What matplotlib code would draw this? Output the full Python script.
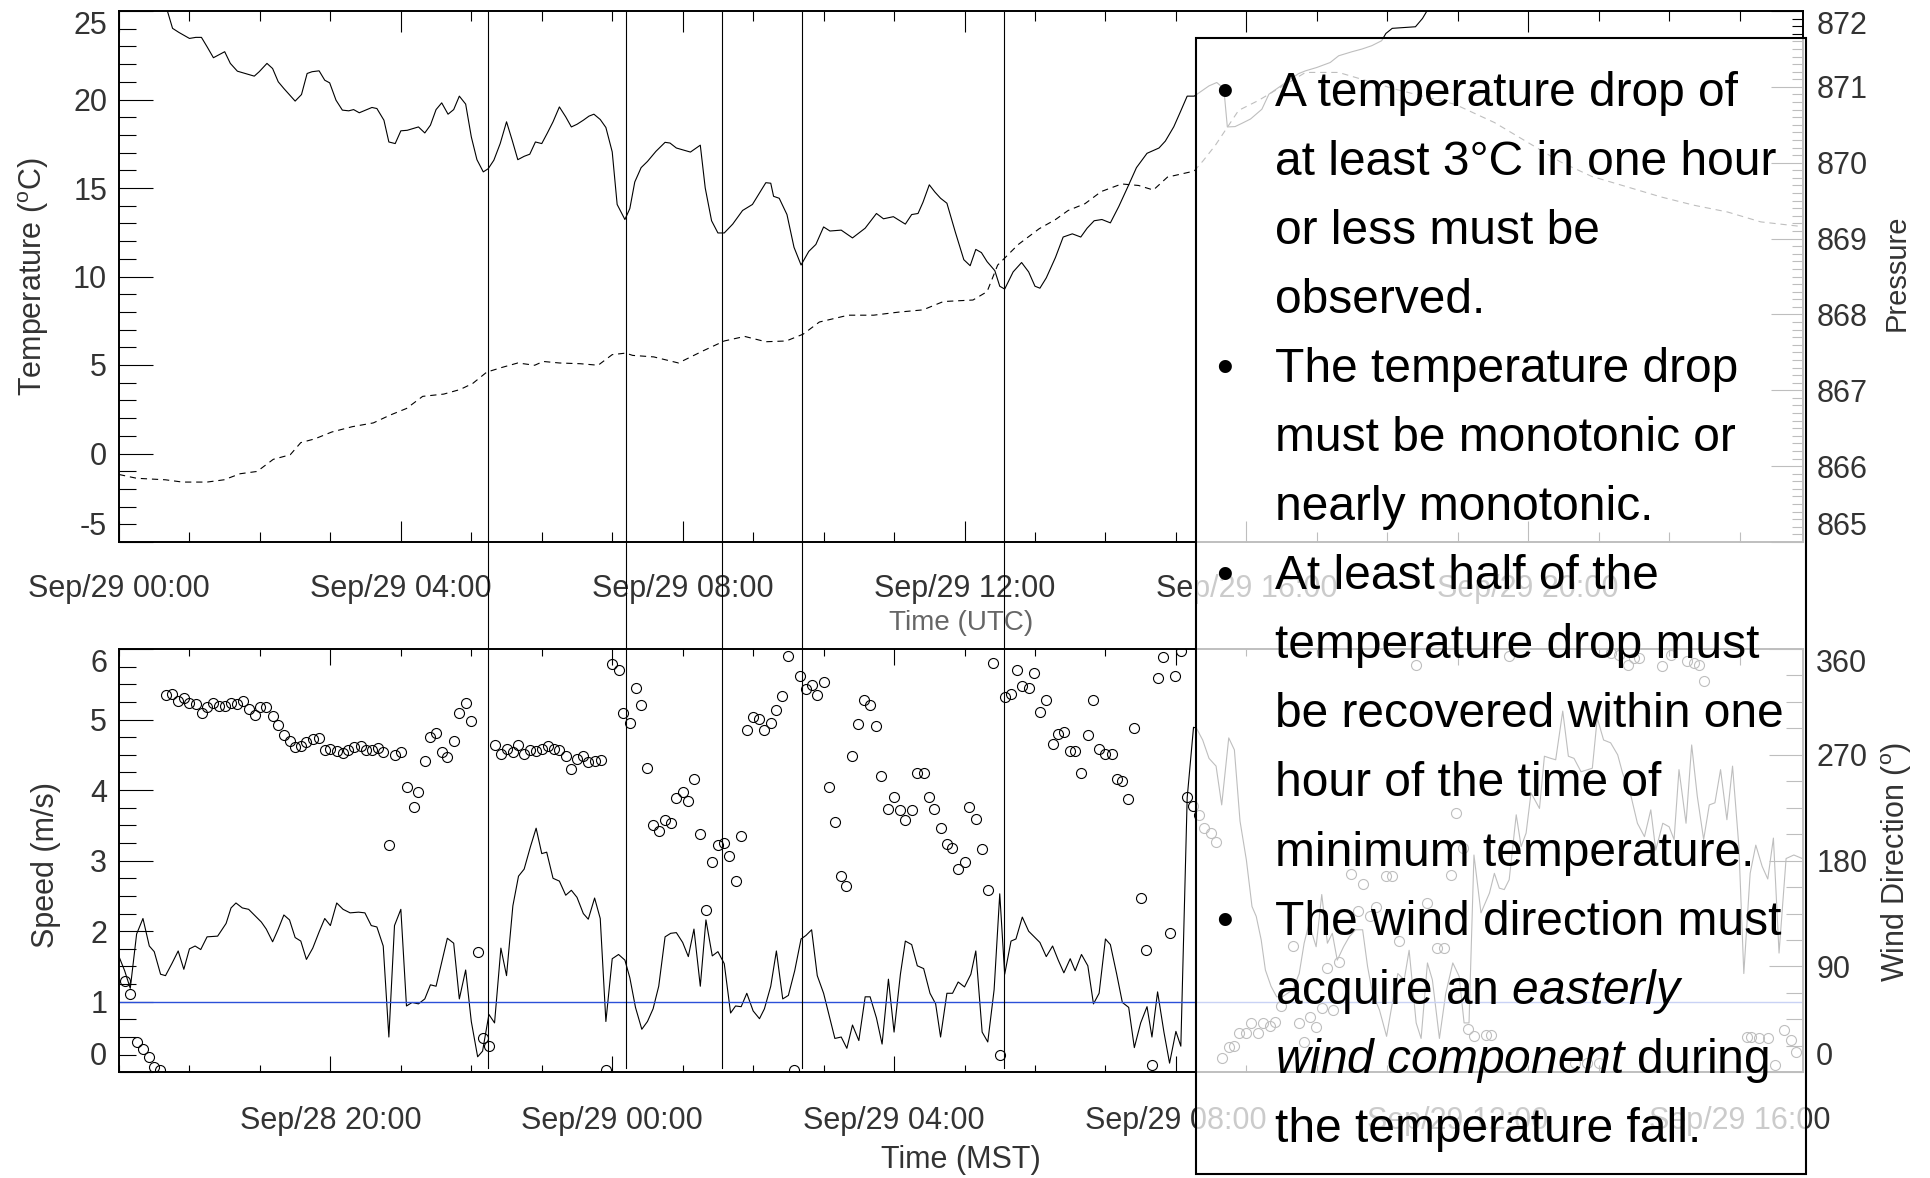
import matplotlib
matplotlib.use('Agg')
import matplotlib.pyplot as plt
from matplotlib import transforms
from matplotlib.lines import Line2D
from matplotlib.patches import Rectangle
from matplotlib.ticker import MultipleLocator

plt.rcParams['font.family'] = ['Liberation Sans', 'DejaVu Sans']
plt.rcParams['mathtext.fontset'] = 'custom'
plt.rcParams['mathtext.rm'] = 'Liberation Sans'
plt.rcParams['mathtext.it'] = 'Liberation Sans:italic'
plt.rcParams['lines.scale_dashes'] = False
plt.rcParams['axes.unicode_minus'] = False

# ---- data (time axis in hours after Sep/29 00:00 UTC) ----
temp_hr = [0.62, 0.76, 0.85, 1.00, 1.09, 1.17, 1.25, 1.34, 1.50, 1.58, 1.68, 1.92, 1.99,
           2.10, 2.18, 2.26, 2.34, 2.50, 2.59, 2.67, 2.74, 2.84, 2.92, 2.99, 3.08, 3.17,
           3.26, 3.33, 3.41, 3.52, 3.59, 3.66, 3.76, 3.83, 3.92, 4.00, 4.09, 4.25, 4.34,
           4.42, 4.50, 4.58, 4.67, 4.75, 4.83, 4.92, 5.00, 5.08, 5.17, 5.24, 5.32, 5.41,
           5.50, 5.58, 5.66, 5.75, 5.83, 5.91, 6.00, 6.08, 6.16, 6.25, 6.34, 6.42, 6.50,
           6.59, 6.67, 6.74, 6.83, 6.91, 7.00, 7.07, 7.18, 7.25, 7.32, 7.41, 7.50, 7.62,
           7.75, 7.82, 7.91, 8.11, 8.25, 8.32, 8.41, 8.50, 8.59, 8.71, 8.85, 8.99, 9.18,
           9.25, 9.29, 9.37, 9.48, 9.58, 9.68, 9.79, 9.89, 10.00, 10.09, 10.25, 10.41,
           10.59, 10.75, 10.85, 10.99, 11.16, 11.25, 11.34, 11.41, 11.50, 11.58, 11.66,
           11.75, 11.87, 11.99, 12.08, 12.16, 12.24, 12.32, 12.43, 12.50, 12.57, 12.69,
           12.81, 12.91, 13.00, 13.07, 13.16, 13.29, 13.40, 13.53, 13.65, 13.74, 13.84,
           13.95, 14.07, 14.19, 14.31, 14.44, 14.59, 14.76, 14.85, 14.97, 15.06, 15.16,
           15.26, 15.47, 15.58, 15.68, 15.73, 15.84, 15.94, 16.06, 16.22, 16.32, 16.74,
           16.84, 17.00, 17.19, 17.31, 17.50, 17.64, 17.78, 17.92, 17.98, 18.07, 18.40,
           18.50, 18.57, 18.65]
temp_c = [25.9, 24.02, 23.79, 23.45, 23.51, 23.51, 22.98, 22.36, 22.70, 22.04, 21.60, 21.32,
          21.57, 22.04, 21.75, 21.00, 20.62, 19.91, 20.28, 21.47, 21.57, 21.62, 21.09, 20.94,
          19.96, 19.40, 19.36, 19.43, 19.25, 19.43, 19.55, 19.49, 18.83, 17.60, 17.51, 18.23,
          18.26, 18.45, 18.11, 18.55, 19.43, 19.81, 19.17, 19.43, 20.19, 19.74, 17.89, 16.60,
          15.91, 16.09, 16.57, 17.51, 18.74, 17.70, 16.60, 16.79, 16.91, 17.60, 17.51, 18.11,
          18.74, 19.58, 19.02, 18.45, 18.60, 18.83, 19.06, 19.17, 18.87, 18.42, 17.04, 14.07,
          13.22, 13.84, 15.34, 16.15, 16.50, 17.07, 17.58, 17.54, 17.26, 17.03, 17.42, 15.00,
          13.15, 12.46, 12.46, 12.96, 13.73, 14.07, 15.30, 15.27, 14.53, 14.42, 13.50, 11.65,
          10.65, 11.42, 11.81, 12.80, 12.57, 12.62, 12.18, 12.73, 13.56, 13.26, 13.38, 12.96,
          13.50, 13.56, 14.19, 15.18, 14.77, 14.42, 14.14, 12.50, 10.95, 10.61, 11.53, 11.35,
          10.84, 10.33, 9.45, 9.29, 10.26, 10.79, 10.26, 9.45, 9.34, 9.92, 11.07, 12.23,
          12.41, 12.23, 12.73, 13.15, 13.22, 13.03, 13.96, 15.00, 16.15, 16.96, 17.26, 17.65,
          18.46, 19.27, 20.19, 20.19, 20.77, 20.96, 20.62, 18.45, 18.47, 18.66, 18.90, 19.45,
          20.30, 21.46, 21.62, 21.81, 22.09, 22.47, 22.70, 22.85, 23.04, 23.32, 23.73, 24.02,
          24.11, 24.58, 25.05, 25.8]

pres_hr = [0.00, 0.25, 0.66, 0.90, 1.25, 1.49, 1.72, 1.96, 2.19, 2.43, 2.58, 2.78, 3.02,
           3.31, 3.61, 3.84, 4.08, 4.31, 4.61, 4.84, 5.02, 5.22, 5.43, 5.66, 5.90, 6.02,
           6.25, 6.55, 6.80, 7.00, 7.19, 7.29, 7.59, 7.94, 8.29, 8.59, 8.88, 9.18, 9.47,
           9.71, 9.94, 10.35, 10.71, 11.06, 11.41, 11.70, 12.12, 12.32, 12.47, 12.76, 13.06,
           13.29, 13.47, 13.71, 13.94, 14.23, 14.47, 14.68, 14.88, 15.26, 15.39, 15.56,
           15.89, 16.17, 16.84, 17.31, 18.11, 18.96, 19.52, 20.46, 20.90, 21.41, 21.88,
           22.35, 22.83, 23.30, 23.87]
pres_mb = [865.89, 865.84, 865.82, 865.79, 865.79, 865.82, 865.90, 865.93, 866.09, 866.15,
           866.31, 866.36, 866.45, 866.52, 866.57, 866.67, 866.76, 866.92, 866.95, 867.01,
           867.09, 867.24, 867.30, 867.36, 867.33, 867.38, 867.36, 867.35, 867.33, 867.47,
           867.49, 867.46, 867.44, 867.36, 867.52, 867.65, 867.71, 867.64, 867.65, 867.74,
           867.90, 867.99, 867.99, 868.03, 868.06, 868.17, 868.19, 868.30, 868.65, 868.92,
           869.13, 869.25, 869.37, 869.46, 869.62, 869.72, 869.70, 869.64, 869.81, 869.89,
           870.03, 870.23, 870.69, 870.82, 871.19, 871.19, 870.97, 870.77, 870.53, 870.01,
           869.82, 869.68, 869.55, 869.44, 869.35, 869.22, 869.16]

spd_hr = [0.00, 0.08, 0.16, 0.25, 0.34, 0.43, 0.50, 0.59, 0.66, 0.75, 0.84, 0.92, 1.00,
          1.08, 1.16, 1.25, 1.40, 1.52, 1.59, 1.66, 1.75, 1.84, 2.02, 2.09, 2.18, 2.26,
          2.34, 2.42, 2.50, 2.58, 2.66, 2.75, 2.84, 2.92, 3.00, 3.09, 3.18, 3.28, 3.40,
          3.49, 3.58, 3.66, 3.75, 3.83, 3.91, 4.00, 4.08, 4.16, 4.25, 4.34, 4.42, 4.50,
          4.58, 4.66, 4.75, 4.83, 4.92, 5.00, 5.09, 5.16, 5.25, 5.33, 5.42, 5.50, 5.59,
          5.67, 5.75, 5.84, 5.92, 6.00, 6.07, 6.16, 6.25, 6.34, 6.42, 6.50, 6.59, 6.66,
          6.75, 6.83, 6.91, 7.00, 7.09, 7.18, 7.25, 7.33, 7.42, 7.50, 7.58, 7.66, 7.75,
          7.83, 7.91, 8.00, 8.08, 8.16, 8.25, 8.33, 8.42, 8.50, 8.59, 8.68, 8.75, 8.83,
          8.91, 9.00, 9.09, 9.16, 9.25, 9.33, 9.42, 9.50, 9.59, 9.68, 9.75, 9.83, 9.91,
          10.00, 10.08, 10.16, 10.25, 10.33, 10.41, 10.50, 10.59, 10.66, 10.75, 10.83,
          10.92, 11.00, 11.09, 11.16, 11.25, 11.33, 11.42, 11.51, 11.59, 11.66, 11.75,
          11.83, 11.91, 12.00, 12.09, 12.16, 12.25, 12.33, 12.42, 12.50, 12.57, 12.66,
          12.73, 12.82, 12.91, 13.00, 13.07, 13.16, 13.25, 13.33, 13.41, 13.50, 13.57,
          13.66, 13.75, 13.83, 13.91, 14.00, 14.07, 14.16, 14.24, 14.33, 14.41, 14.50,
          14.59, 14.66, 14.74, 14.83, 14.91, 15.00, 15.07, 15.16, 15.25, 15.29, 15.38,
          15.47, 15.57, 15.65, 15.75, 15.83, 15.91, 16.00, 16.08, 16.14, 16.21, 16.27,
          16.35, 16.43, 16.51, 16.66, 16.75, 16.82, 16.89, 16.99, 17.07, 17.15, 17.22,
          17.29, 17.38, 17.46, 17.55, 17.65, 17.72, 17.79, 17.89, 17.99, 18.08, 18.15,
          18.24, 18.31, 18.41, 18.48, 18.57, 18.64, 18.74, 18.83, 18.93, 19.02, 19.09,
          19.16, 19.23, 19.33, 19.45, 19.52, 19.59, 19.66, 19.73, 19.83, 19.90, 19.97,
          20.04, 20.16, 20.23, 20.32, 20.39, 20.49, 20.57, 20.65, 20.75, 20.91, 20.98,
          21.07, 21.17, 21.27, 21.34, 21.46, 21.55, 21.65, 21.74, 21.81, 21.91, 22.00,
          22.07, 22.14, 22.24, 22.32, 22.40, 22.49, 22.57, 22.65, 22.73, 22.82, 22.90,
          22.99, 23.06, 23.15, 23.23, 23.32, 23.40, 23.48, 23.56, 23.66, 23.77, 23.89]
spd_ms = [1.64, 1.44, 1.19, 1.96, 2.18, 1.79, 1.71, 1.39, 1.37, 1.54, 1.72, 1.46, 1.75,
          1.79, 1.74, 1.92, 1.93, 2.11, 2.33, 2.40, 2.33, 2.31, 2.13, 2.03, 1.85, 2.03,
          2.23, 2.16, 1.91, 1.86, 1.60, 1.76, 1.99, 2.18, 2.08, 2.40, 2.31, 2.26, 2.27,
          2.26, 2.08, 2.06, 1.79, 0.50, 2.08, 2.31, 0.94, 0.99, 0.97, 1.04, 1.24, 1.22,
          1.56, 1.90, 1.83, 1.04, 1.45, 0.72, 0.22, 0.30, 0.82, 0.70, 1.76, 1.37, 2.36,
          2.78, 2.88, 3.20, 3.46, 3.10, 3.12, 2.75, 2.71, 2.51, 2.58, 2.48, 2.25, 2.17,
          2.47, 2.18, 0.72, 1.61, 1.67, 1.59, 1.34, 0.92, 0.61, 0.72, 0.90, 1.22, 1.92,
          1.97, 1.98, 1.84, 1.64, 2.03, 1.22, 2.16, 1.65, 1.71, 1.54, 0.84, 0.94, 0.93,
          1.12, 0.87, 0.76, 0.90, 1.22, 1.72, 1.04, 1.09, 1.44, 1.89, 1.94, 2.02, 1.37,
          1.12, 0.80, 0.48, 0.50, 0.34, 0.67, 0.45, 1.07, 1.07, 0.77, 0.40,
          1.32, 0.57, 1.39, 1.86, 1.81, 1.51, 1.47, 1.12, 0.97, 0.50, 1.12,
          1.12, 1.28, 1.21, 1.39, 1.72, 0.57, 0.43, 1.17, 2.53, 1.39, 1.86,
          1.89, 2.20, 2.00, 1.91, 1.84, 1.64, 1.79, 1.59, 1.41, 1.61, 1.44,
          1.67, 1.51, 0.97, 1.12, 1.89, 1.81, 1.39, 0.99, 0.92, 0.35, 0.70,
          0.93, 0.50, 1.14, 0.57, 0.13, 0.58, 0.37, 3.89, 4.89, 4.88, 4.71,
          4.45, 4.34, 3.79, 4.74, 4.57, 3.56, 3.01, 2.35, 2.21, 1.88, 1.45,
          1.22, 1.07, 1.07, 1.17, 1.40, 1.83, 2.11, 1.78, 2.52, 1.83, 1.97,
          1.59, 1.78, 1.92, 2.02, 2.02, 1.50, 1.12, 0.88, 0.51, 1.03, 1.40,
          1.31, 1.73, 0.70, 0.48, 1.55, 1.31, 0.48, 1.12, 1.55, 1.36, 0.70,
          0.70, 3.08, 2.26, 2.54, 2.82, 2.61, 2.59, 2.73, 3.65, 3.20, 3.39,
          3.96, 3.74, 4.48, 4.45, 4.43, 5.12, 4.48, 4.45, 4.26, 4.31, 5.02,
          4.71, 4.67, 4.50, 4.24, 3.91, 3.53, 3.34, 3.72, 3.15, 3.53, 3.48,
          3.30, 4.29, 3.53, 4.64, 3.91, 3.30, 3.79, 3.82, 4.29, 3.58, 4.34,
          3.20, 1.40, 2.82, 3.22, 2.92, 2.74, 3.32, 1.69, 3.03, 3.08, 3.03]

dir_hr = [0.08, 0.16, 0.25, 0.34, 0.42, 0.50, 0.58, 0.66, 0.75, 0.84, 0.92, 1.00, 1.09,
          1.18, 1.25, 1.34, 1.42, 1.50, 1.59, 1.68, 1.76, 1.84, 1.93, 2.00, 2.09, 2.18,
          2.25, 2.34, 2.43, 2.50, 2.59, 2.66, 2.75, 2.84, 2.92, 3.00, 3.09, 3.18, 3.25,
          3.34, 3.43, 3.50, 3.59, 3.68, 3.75, 3.83, 3.92, 4.00, 4.09, 4.18, 4.25, 4.34,
          4.42, 4.50, 4.59, 4.66, 4.75, 4.83, 4.92, 5.00, 5.09, 5.16, 5.25, 5.33, 5.42,
          5.50, 5.59, 5.66, 5.75, 5.84, 5.92, 6.00, 6.09, 6.17, 6.25, 6.34, 6.42, 6.50,
          6.59, 6.66, 6.75, 6.84, 6.91, 7.00, 7.09, 7.16, 7.25, 7.34, 7.41, 7.50, 7.58,
          7.66, 7.75, 7.83, 7.91, 8.00, 8.08, 8.16, 8.25, 8.33, 8.41, 8.50, 8.58, 8.66,
          8.75, 8.83, 8.91, 9.00, 9.08, 9.16, 9.25, 9.33, 9.41, 9.50, 9.58, 9.66, 9.75,
          9.83, 9.91, 10.00, 10.08, 10.16, 10.25, 10.32, 10.41, 10.49, 10.58, 10.66,
          10.75, 10.82, 10.91, 11.00, 11.08, 11.16, 11.25, 11.33, 11.42, 11.50, 11.57,
          11.66, 11.75, 11.82, 11.91, 12.00, 12.07, 12.16, 12.25, 12.33, 12.41, 12.50,
          12.57, 12.66, 12.75, 12.82, 12.91, 12.99, 13.07, 13.16, 13.25, 13.32, 13.41,
          13.49, 13.57, 13.66, 13.75, 13.82, 13.91, 14.00, 14.09, 14.16, 14.24, 14.32,
          14.41, 14.50, 14.57, 14.66, 14.74, 14.82, 14.91, 14.99, 15.07, 15.16, 15.24,
          15.33, 15.40, 15.50, 15.57, 15.65, 15.75, 15.82, 15.90, 15.99, 16.07, 16.16,
          16.23, 16.33, 16.41, 16.49, 16.66, 16.75, 16.82, 16.90, 16.99, 17.07, 17.15,
          17.23, 17.32, 17.48, 17.58, 17.65, 17.75, 17.84, 17.98, 18.07, 18.16, 18.41,
          18.57, 18.71, 18.81, 18.90, 18.97, 19.07, 19.15, 19.23, 19.40, 19.47, 19.73,
          20.66, 20.84, 21.00, 21.17, 21.29, 21.41, 21.50, 21.57, 21.90, 22.02, 22.26,
          22.35, 22.43, 22.49, 23.10, 23.16, 23.28, 23.40, 23.50, 23.63, 23.73, 23.80]
dir_deg = [77.5, 67, 25.4, 19.5, 13, 4.6, 2.2, 320.8, 321.4, 316, 318.4, 313.9, 313,
           305.9, 310.4, 314.5, 311.6, 311.9, 313.9, 313.3, 315.4, 308.6, 304.1, 310.4,
           311, 302.6, 295.5, 287.2, 282.1, 276.8, 277.4, 281.2, 283.6, 284.2, 273.8,
           275.3, 272.9, 271.7, 273.8, 276.8, 277.4, 274.4, 273.8, 275.9, 272.3, 193.5,
           270.2, 272.3, 242.5, 225.3, 238.1, 264.9, 285.1, 288.7, 272.3, 268.4, 281.8,
           305.6, 313.9, 298.5, 102.2, 29.3, 22.4, 278.2, 270.8, 275.3, 272.3, 278.2,
           270.8, 273.8, 272.9, 275.3, 277.7, 275.3, 273.8, 269.3, 258, 266.3, 269.3,
           263.9, 264.9, 265.8, 1.6, 347, 342.2, 305.9, 297, 326.5, 312.4, 258.9, 210.4,
           205.4, 214.3, 211.9, 233.6, 238.7, 230.6, 249.4, 203, 137.8, 178.6, 192.9, 195,
           184, 162.8, 200.9, 291, 302, 300.6, 290.7, 297, 308, 319.9, 354.1, 1.6, 336.8,
           326.4, 329.4, 320.8, 331.8, 242.5, 212.8, 166.7, 158.4, 269.3, 296.1, 316.9,
           312.4, 294.6, 252.4, 223.8, 234.2, 223.2, 214.3, 223.2, 254.5, 254.5, 234.5,
           223.8, 207.5, 194.4, 190.5, 172.7, 179.2, 225.6, 215.2, 189.9, 155.4, 348.1, 15,
           319, 321.4, 342.2, 328.8, 326.7, 339.8, 306.5, 316.3, 278.8, 287.8, 289.5, 273.2,
           273.2, 254.5, 286.6, 316.9, 275.3, 270.8, 270.8, 249.4, 247.6, 232.1, 292.5,
           148.3, 104.2, 6.1, 335.6, 353.2, 118.5, 336.8, 357.9, 234.4, 226.1, 219, 207.6,
           203.9, 195.7, 11.9, 21.8, 22.4, 33.7, 33.7, 41.7, 33.7, 41.7, 39.4, 43.1, 56.4,
           107.5, 41.7, 26.1, 47.3, 38.3, 54.4, 88.5, 53, 94.1, 168.8, 137.5, 160.2, 133,
           141, 167, 167, 112, 346.6, 143.8, 105.5, 105.5, 167.9, 220.4, 190.6, 36.5, 30.9,
           31.7, 31.7, 353.7, 7.6, 7.6, 7.6, 356.6, 355.1, 346.6, 352.3, 352.3, 345.2, 355.1,
           349.5, 348, 346.6, 332.4, 29.9, 30.3, 28.9, 28.9, 6, 36, 27.5, 17.5]

drop_hr = [5.23, 7.19, 8.56, 9.69, 12.56]

utc_ticks = [0, 4, 8, 12, 16, 20]
utc_labels = ['Sep/29 00:00', 'Sep/29 04:00', 'Sep/29 08:00', 'Sep/29 12:00',
              'Sep/29 16:00', 'Sep/29 20:00']
mst_ticks = [3, 7, 11, 15, 19, 23]
mst_labels = ['Sep/28 20:00', 'Sep/29 00:00', 'Sep/29 04:00', 'Sep/29 08:00',
              'Sep/29 12:00', 'Sep/29 16:00']

note_lines = ['A temperature drop of', 'at least 3°C in one hour', 'or less must be',
              'observed.', 'The temperature drop', 'must be monotonic or',
              'nearly monotonic.', 'At least half of the', 'temperature drop must',
              'be recovered within one', 'hour of the time of', 'minimum temperature.',
              'The wind direction must', r'acquire an $\mathit{easterly}$',
              r'$\mathit{wind\ component}$ during', 'the temperature fall.']
bullet_rows = [0, 4, 7, 12]

INK = '#333333'
W, H = 1931, 1178


def end_labels_inward(axis):
    # first/last tick labels pulled inside the axis range
    ticks = axis.get_major_ticks()
    for lab in (ticks[0].label1, ticks[0].label2):
        lab.set_va('bottom')
    for lab in (ticks[-1].label1, ticks[-1].label2):
        lab.set_va('top')


fig = plt.figure(figsize=(W / 100, H / 100), dpi=100)
ax_t = fig.add_axes([119 / W, 1 - 542 / H, 1684 / W, 531 / H])
ax_p = ax_t.twinx()
ax_b = fig.add_axes([119 / W, 1 - 1072.3 / H, 1684 / W, 423.3 / H])
ax_d = ax_b.twinx()

# top panel: temperature + pressure
ax_t.plot(temp_hr, temp_c, color='k', lw=0.8)
ax_p.plot(pres_hr, pres_mb, color='k', lw=0.8, ls=(0, (4.5, 3.5)))
ax_t.set_xlim(0, 23.9)
ax_t.set_ylim(-5, 25)
ax_p.set_ylim(865, 872)

ax_t.set_xticks(utc_ticks)
ax_t.set_xticklabels(utc_labels)
ax_t.xaxis.set_minor_locator(MultipleLocator(1))
ax_t.set_yticks(range(-5, 26, 5))
ax_t.yaxis.set_minor_locator(MultipleLocator(1))
ax_p.set_yticks(range(865, 873))
ax_p.yaxis.set_minor_locator(MultipleLocator(0.1))

ax_t.tick_params(axis='x', which='both', direction='in', top=True, bottom=True,
                 width=0.8, labelsize=22, labelcolor=INK, pad=23)
ax_t.tick_params(axis='x', which='major', length=15)
ax_t.tick_params(axis='x', which='minor', length=7.2)
ax_t.tick_params(axis='y', which='both', direction='in', left=True, right=False,
                 width=0.8, labelsize=22, labelcolor=INK, pad=8.5)
ax_t.tick_params(axis='y', which='major', length=24.5)
ax_t.tick_params(axis='y', which='minor', length=12)
ax_p.tick_params(axis='y', which='both', direction='in', left=False, right=True,
                 width=0.8, labelsize=22, labelcolor=INK, pad=9.5)
ax_p.tick_params(axis='y', which='major', length=23)
ax_p.tick_params(axis='y', which='minor', length=8)

ax_t.set_ylabel(r'Temperature ($^{\rm o}$C)', fontsize=22, color=INK, va='center')
ax_t.yaxis.set_label_coords(-0.051, 0.5)
ax_p.set_ylabel('Pressure', fontsize=21, color=INK, va='center')
ax_p.yaxis.set_label_coords(1.0555, 0.507)
ax_t.set_xlabel('Time (UTC)', fontsize=20, color='#666666', va='center')
ax_t.xaxis.set_label_coords(0.5, -0.1525)

# bottom panel: wind speed + direction
ax_b.plot(spd_hr, spd_ms, color='k', lw=0.8)
ax_b.axhline(1.0, color='#2b50d8', lw=1.0)
ax_d.plot(dir_hr, dir_deg, ls='none', marker='o', ms=7.2, mfc='none', mec='k', mew=0.8)
ax_b.set_xlim(0, 23.9)
ax_b.set_ylim(0, 6)
ax_d.set_ylim(0, 360)

ax_b.set_xticks(mst_ticks)
ax_b.set_xticklabels(mst_labels)
ax_b.xaxis.set_minor_locator(MultipleLocator(1))
ax_b.set_yticks(range(0, 7))
ax_b.yaxis.set_minor_locator(MultipleLocator(0.25))
ax_d.set_yticks(range(0, 361, 90))
ax_d.yaxis.set_minor_locator(MultipleLocator(22.5))

ax_b.tick_params(axis='x', which='both', direction='in', top=True, bottom=True,
                 width=0.8, labelsize=22, labelcolor=INK, pad=24)
ax_b.tick_params(axis='x', which='major', length=11.3)
ax_b.tick_params(axis='x', which='minor', length=5)
ax_b.tick_params(axis='y', which='both', direction='in', left=True, right=False,
                 width=0.8, labelsize=22, labelcolor=INK, pad=8.5)
ax_b.tick_params(axis='y', which='major', length=24.5)
ax_b.tick_params(axis='y', which='minor', length=12)
ax_d.tick_params(axis='y', which='both', direction='in', left=False, right=True,
                 width=0.8, labelsize=22, labelcolor=INK, pad=9.5)
ax_d.tick_params(axis='y', which='major', length=24.5)
ax_d.tick_params(axis='y', which='minor', length=12)

ax_b.set_ylabel('Speed (m/s)', fontsize=22, color=INK, va='center')
ax_b.yaxis.set_label_coords(-0.0436, 0.49)
ax_d.set_ylabel(r'Wind Direction ($^{\rm o}$)', fontsize=22, color=INK, va='center')
ax_d.yaxis.set_label_coords(1.0555, 0.497)
ax_b.set_xlabel('Time (MST)', fontsize=22, color=INK, va='center')
ax_b.xaxis.set_label_coords(0.5, -0.207)

for ax in (ax_t, ax_p, ax_b, ax_d):
    for sp in ax.spines.values():
        sp.set_linewidth(1.2)
for axis in (ax_t.yaxis, ax_p.yaxis, ax_b.yaxis, ax_d.yaxis):
    end_labels_inward(axis)

# vertical markers at the temperature minima, running through both panels
trans = transforms.blended_transform_factory(ax_t.transData, fig.transFigure)
for h in drop_hr:
    fig.add_artist(Line2D([h, h], [1 - 1068 / H, 1 - 12 / H], transform=trans,
                          color='k', lw=0.8))

# semi-transparent note box
fig.add_artist(Rectangle((1196 / W, 1 - 1173.5 / H), 610.5 / W, 1136 / H,
                         transform=fig.transFigure, facecolor=(1, 1, 1, 0.75),
                         edgecolor='k', lw=1.5, zorder=5))
y0, dy = 106, 69.05
for i, line in enumerate(note_lines):
    yf = 1 - (y0 + i * dy) / H
    fig.text(1275 / W, yf, line, fontsize=34.5, ha='left', va='baseline', zorder=6)
    if i in bullet_rows:
        fig.text(1224 / W, yf, '\u2022', fontsize=34.5, ha='center', va='baseline', zorder=6)

fig.savefig('out.png', dpi=100)
